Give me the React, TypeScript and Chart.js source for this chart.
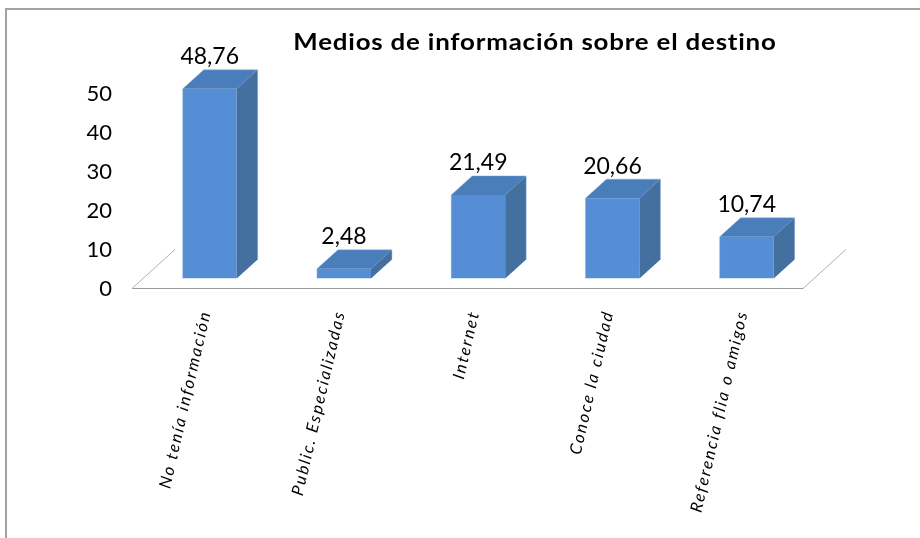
import { useEffect, useRef } from "react";
import { Chart, registerables } from "chart.js";

Chart.register(...registerables);

const categories = [
  "No tenía información",
  "Public. Especializadas",
  "Internet",
  "Conoce la ciudad",
  "Referencia flia o amigos",
];
const values = [48.76, 2.48, 21.49, 20.66, 10.74];
const valueLabels = ["48,76", "2,48", "21,49", "20,66", "10,74"];
const yMin = 0;
const yMax = 50;
const yStep = 10;
const chartTitle = "Medios de información sobre el destino";

const FRONT = "#558ED5";
const TOP = "#4A7EBB";
const SIDE = "#44709F";
const DX = 21;
const DY = -19;

const floorPlugin = {
  id: "floor3d",
  beforeDatasetsDraw(chart: any) {
    const { ctx, chartArea } = chart;
    const y0 = chart.scales.y.getPixelForValue(0);
    const fy = y0 + 10;
    const xl = chartArea.left - 10.6;
    const xr = chartArea.right - 10.8;
    ctx.save();
    ctx.strokeStyle = "#9c9c9c";
    ctx.lineWidth = 1.2;
    ctx.beginPath();
    ctx.moveTo(xl, fy);
    ctx.lineTo(xr, fy);
    ctx.stroke();
    ctx.strokeStyle = "#b0b0b0";
    ctx.lineWidth = 1;
    ctx.beginPath();
    ctx.moveTo(xl, fy);
    ctx.lineTo(xl + 2 * DX + 1, fy + 2 * DY - 1);
    ctx.moveTo(xr, fy);
    ctx.lineTo(xr + 2 * DX + 1, fy + 2 * DY - 1);
    ctx.stroke();
    ctx.restore();
  },
};

const spacingPlugin = {
  id: "xLabelSpacing",
  beforeDraw(chart: any) {
    const s = chart.scales.x;
    if (s && !s.__spaced) {
      const orig = s.drawLabels.bind(s);
      s.drawLabels = (area: any) => {
        const ctx = chart.ctx;
        ctx.save();
        (ctx as any).letterSpacing = "1.9px";
        orig(area);
        ctx.restore();
      };
      s.__spaced = true;
    }
  },
};

const bar3dPlugin = {
  id: "bar3d",
  afterDatasetsDraw(chart: any) {
    const { ctx } = chart;
    const meta = chart.getDatasetMeta(0);
    ctx.save();
    meta.data.forEach((bar: any, i: number) => {
      const { x, y, base, width } = bar.getProps(["x", "y", "base", "width"], true);
      const l = x - width / 2;
      const r = x + width / 2;
      ctx.fillStyle = TOP;
      ctx.beginPath();
      ctx.moveTo(l, y);
      ctx.lineTo(l + DX, y + DY);
      ctx.lineTo(r + DX, y + DY);
      ctx.lineTo(r, y);
      ctx.closePath();
      ctx.fill();
      ctx.fillStyle = SIDE;
      ctx.beginPath();
      ctx.moveTo(r, y);
      ctx.lineTo(r + DX, y + DY);
      ctx.lineTo(r + DX, base + DY);
      ctx.lineTo(r, base);
      ctx.closePath();
      ctx.fill();
      ctx.strokeStyle = "rgba(140,175,220,0.6)";
      ctx.lineWidth = 0.8;
      ctx.beginPath();
      ctx.moveTo(l, base);
      ctx.lineTo(l, y);
      ctx.lineTo(l + DX, y + DY);
      ctx.lineTo(r + DX, y + DY);
      ctx.lineTo(r + DX, base + DY);
      ctx.stroke();
      ctx.fillStyle = "#000";
      ctx.font = "23px Lato";
      ctx.textAlign = "center";
      ctx.textBaseline = "alphabetic";
      ctx.fillText(valueLabels[i], x, y - 24.5);
    });
    ctx.restore();
  },
};

const titlePlugin = {
  id: "customTitle",
  afterDraw(chart: any) {
    const { ctx } = chart;
    ctx.save();
    ctx.fillStyle = "#000";
    ctx.font = "bold 22.5px Lato";
    (ctx as any).letterSpacing = "0.7px";
    ctx.textAlign = "center";
    ctx.textBaseline = "alphabetic";
    ctx.translate(535, 49.5);
    ctx.scale(1.15, 1);
    ctx.fillText(chartTitle, 0, 0);
    ctx.restore();
  },
};

export default function App() {
  const ref = useRef<HTMLCanvasElement | null>(null);
  useEffect(() => {
    if (!ref.current) return;
    const chart = new Chart(ref.current, {
      type: "bar",
      data: {
        labels: categories,
        datasets: [
          {
            data: values,
            backgroundColor: FRONT,
            borderWidth: 0,
            barPercentage: 0.402,
            categoryPercentage: 1,
          },
        ],
      },
      options: {
        responsive: false,
        animation: false,
        layout: { padding: { left: 0, right: 106.2, top: 84, bottom: 0 } },
        plugins: {
          legend: { display: false },
          tooltip: { enabled: false },
          title: { display: false },
        },
        scales: {
          x: {
            grid: { display: false, drawTicks: false },
            border: { display: false },
            afterFit: (scale: any) => {
              scale.height = 259.5;
            },
            ticks: {
              autoSkip: false,
              minRotation: 77,
              maxRotation: 77,
              padding: 30,
              labelOffset: -4,
              color: "#000",
              font: { family: "Lato", size: 16.5, style: "italic" },
            },
          },
          y: {
            min: yMin,
            max: yMax,
            grid: { display: false, drawTicks: false },
            border: { display: false },
            afterFit: (scale: any) => {
              scale.width = 142.6;
            },
            ticks: {
              stepSize: yStep,
              padding: 30.6,
              labelOffset: 10,
              color: "#000",
              font: { family: "Lato", size: 22 },
            },
          },
        },
      },
      plugins: [spacingPlugin, floorPlugin, bar3dPlugin, titlePlugin],
    });
    return () => chart.destroy();
  }, []);

  return (
    <div style={{ position: "fixed", left: 0, top: 0, width: 920, height: 538, background: "#fff", overflow: "hidden" }}>
      <div
        style={{
          position: "absolute",
          left: 5,
          top: 8,
          width: 1000,
          height: 1000,
          borderLeft: "2px solid #a3a3a3",
          borderTop: "2px solid #a3a3a3",
        }}
      />
      <canvas ref={ref} width={920} height={538} style={{ position: "absolute", left: 0, top: 0, display: "block" }} />
    </div>
  );
}
